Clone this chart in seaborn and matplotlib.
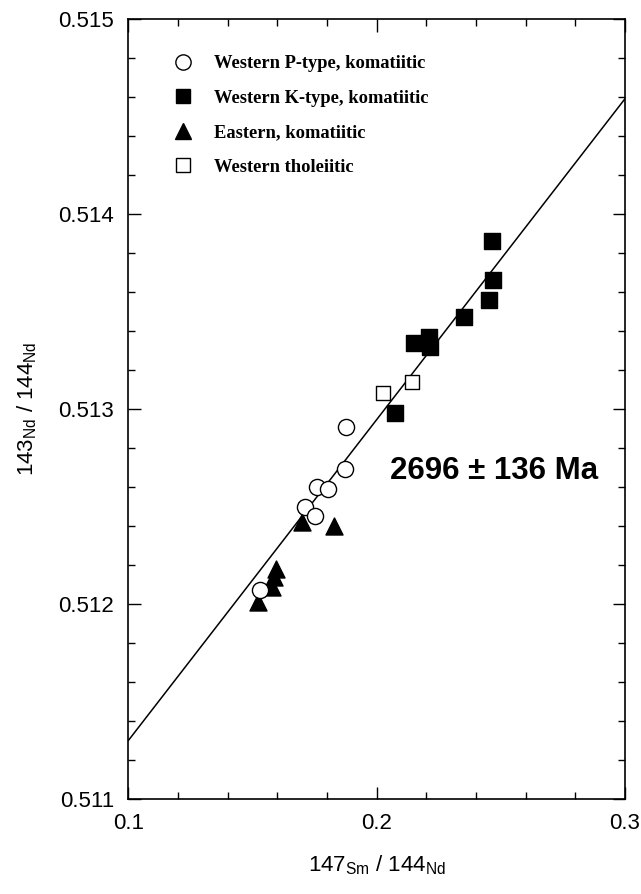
import seaborn as sns
import matplotlib.pyplot as plt
import pandas as pd
import numpy as np
from matplotlib.ticker import MultipleLocator, FormatStrFormatter
from matplotlib.lines import Line2D

# data
p_x = [0.1530, 0.1876, 0.1871, 0.1759, 0.1803, 0.1711, 0.1751]
p_y = [0.51207, 0.51291, 0.51269, 0.51260, 0.51259, 0.51250, 0.51245]

k_x = [0.2466, 0.2470, 0.2454, 0.2353, 0.2213, 0.2149, 0.2217, 0.2076]
k_y = [0.51386, 0.51366, 0.51356, 0.51347, 0.51337, 0.51334, 0.51332, 0.51298]

e_x = [0.1522, 0.1580, 0.1588, 0.1596, 0.1701, 0.1829]
e_y = [0.51201, 0.51209, 0.51214, 0.51218, 0.51242, 0.51240]

t_x = [0.2141, 0.2024]
t_y = [0.51314, 0.51308]

line_x = [0.1, 0.3]
line_y = [0.51130, 0.51459]

groups = ['Western P-type, komatiitic', 'Western K-type, komatiitic',
          'Eastern, komatiitic', 'Western tholeiitic']

df = pd.concat([
    pd.DataFrame({'x': p_x, 'y': p_y, 'group': groups[0]}),
    pd.DataFrame({'x': k_x, 'y': k_y, 'group': groups[1]}),
    pd.DataFrame({'x': e_x, 'y': e_y, 'group': groups[2]}),
    pd.DataFrame({'x': t_x, 'y': t_y, 'group': groups[3]}),
])
line_df = pd.DataFrame({'x': line_x, 'y': line_y})

sns.set_style('ticks')
plt.rcParams['font.family'] = ['Liberation Sans', 'DejaVu Sans']
plt.rcParams['mathtext.fontset'] = 'custom'
plt.rcParams['mathtext.rm'] = 'Liberation Sans'
for k in ['text.color', 'axes.labelcolor', 'xtick.color', 'ytick.color', 'axes.edgecolor']:
    plt.rcParams[k] = 'black'

fig = plt.figure(figsize=(6.41, 8.94), dpi=100)
ax = fig.add_axes([0.200, 0.106, 0.775, 0.873])

sns.lineplot(data=line_df, x='x', y='y', color='black', linewidth=1.1, ax=ax)

styles = {
    groups[0]: dict(marker='o', s=135, facecolor='white'),
    groups[1]: dict(marker='s', s=125, facecolor='black'),
    groups[2]: dict(marker='^', s=150, facecolor='black'),
    groups[3]: dict(marker='s', s=115, facecolor='white'),
}
for g in [groups[3], groups[1], groups[2], groups[0]]:
    st = styles[g]
    sns.scatterplot(data=df[df['group'] == g], x='x', y='y', marker=st['marker'],
                    s=st['s'], color=st['facecolor'], edgecolor='black',
                    linewidth=1.0, ax=ax, zorder=3)

ax.set_xlim(0.1, 0.3)
ax.set_ylim(0.511, 0.515)
ax.xaxis.set_major_locator(MultipleLocator(0.1))
ax.xaxis.set_minor_locator(MultipleLocator(0.02))
ax.yaxis.set_major_locator(MultipleLocator(0.001))
ax.yaxis.set_minor_locator(MultipleLocator(0.0002))
ax.xaxis.set_major_formatter(FormatStrFormatter('%.1f'))
ax.yaxis.set_major_formatter(FormatStrFormatter('%.3f'))
ax.tick_params(which='both', direction='in', top=True, right=True, labelsize=16, width=1)
ax.tick_params(which='major', length=9)
ax.tick_params(which='minor', length=5)
ax.tick_params(axis='y', which='major', pad=10)
ax.tick_params(axis='x', which='major', pad=10)
for sp in ax.spines.values():
    sp.set_linewidth(1.2)

ax.set_xlabel(r'147$_{\mathrm{Sm}}$ / 144$_{\mathrm{Nd}}$', fontsize=16, labelpad=14)
ax.set_ylabel(r'143$_{\mathrm{Nd}}$ / 144$_{\mathrm{Nd}}$', fontsize=16, labelpad=14)

ax.text(0.2055, 0.51268, '2696 ± 136 Ma', fontsize=22.5, fontweight='bold',
        ha='left', va='center')

handles = [
    Line2D([], [], marker='o', ls='', markersize=11, markerfacecolor='white', markeredgecolor='black'),
    Line2D([], [], marker='s', ls='', markersize=10.5, markerfacecolor='black', markeredgecolor='black'),
    Line2D([], [], marker='^', ls='', markersize=11.5, markerfacecolor='black', markeredgecolor='black'),
    Line2D([], [], marker='s', ls='', markersize=10, markerfacecolor='white', markeredgecolor='black'),
]
ax.legend(handles, groups, loc='upper left', bbox_to_anchor=(0.036, 0.977), frameon=False,
          prop={'family': 'Liberation Serif', 'weight': 'bold', 'size': 13.3},
          handletextpad=0.7, labelspacing=0.95, borderpad=0.5)

fig.savefig('out.png', dpi=100)
